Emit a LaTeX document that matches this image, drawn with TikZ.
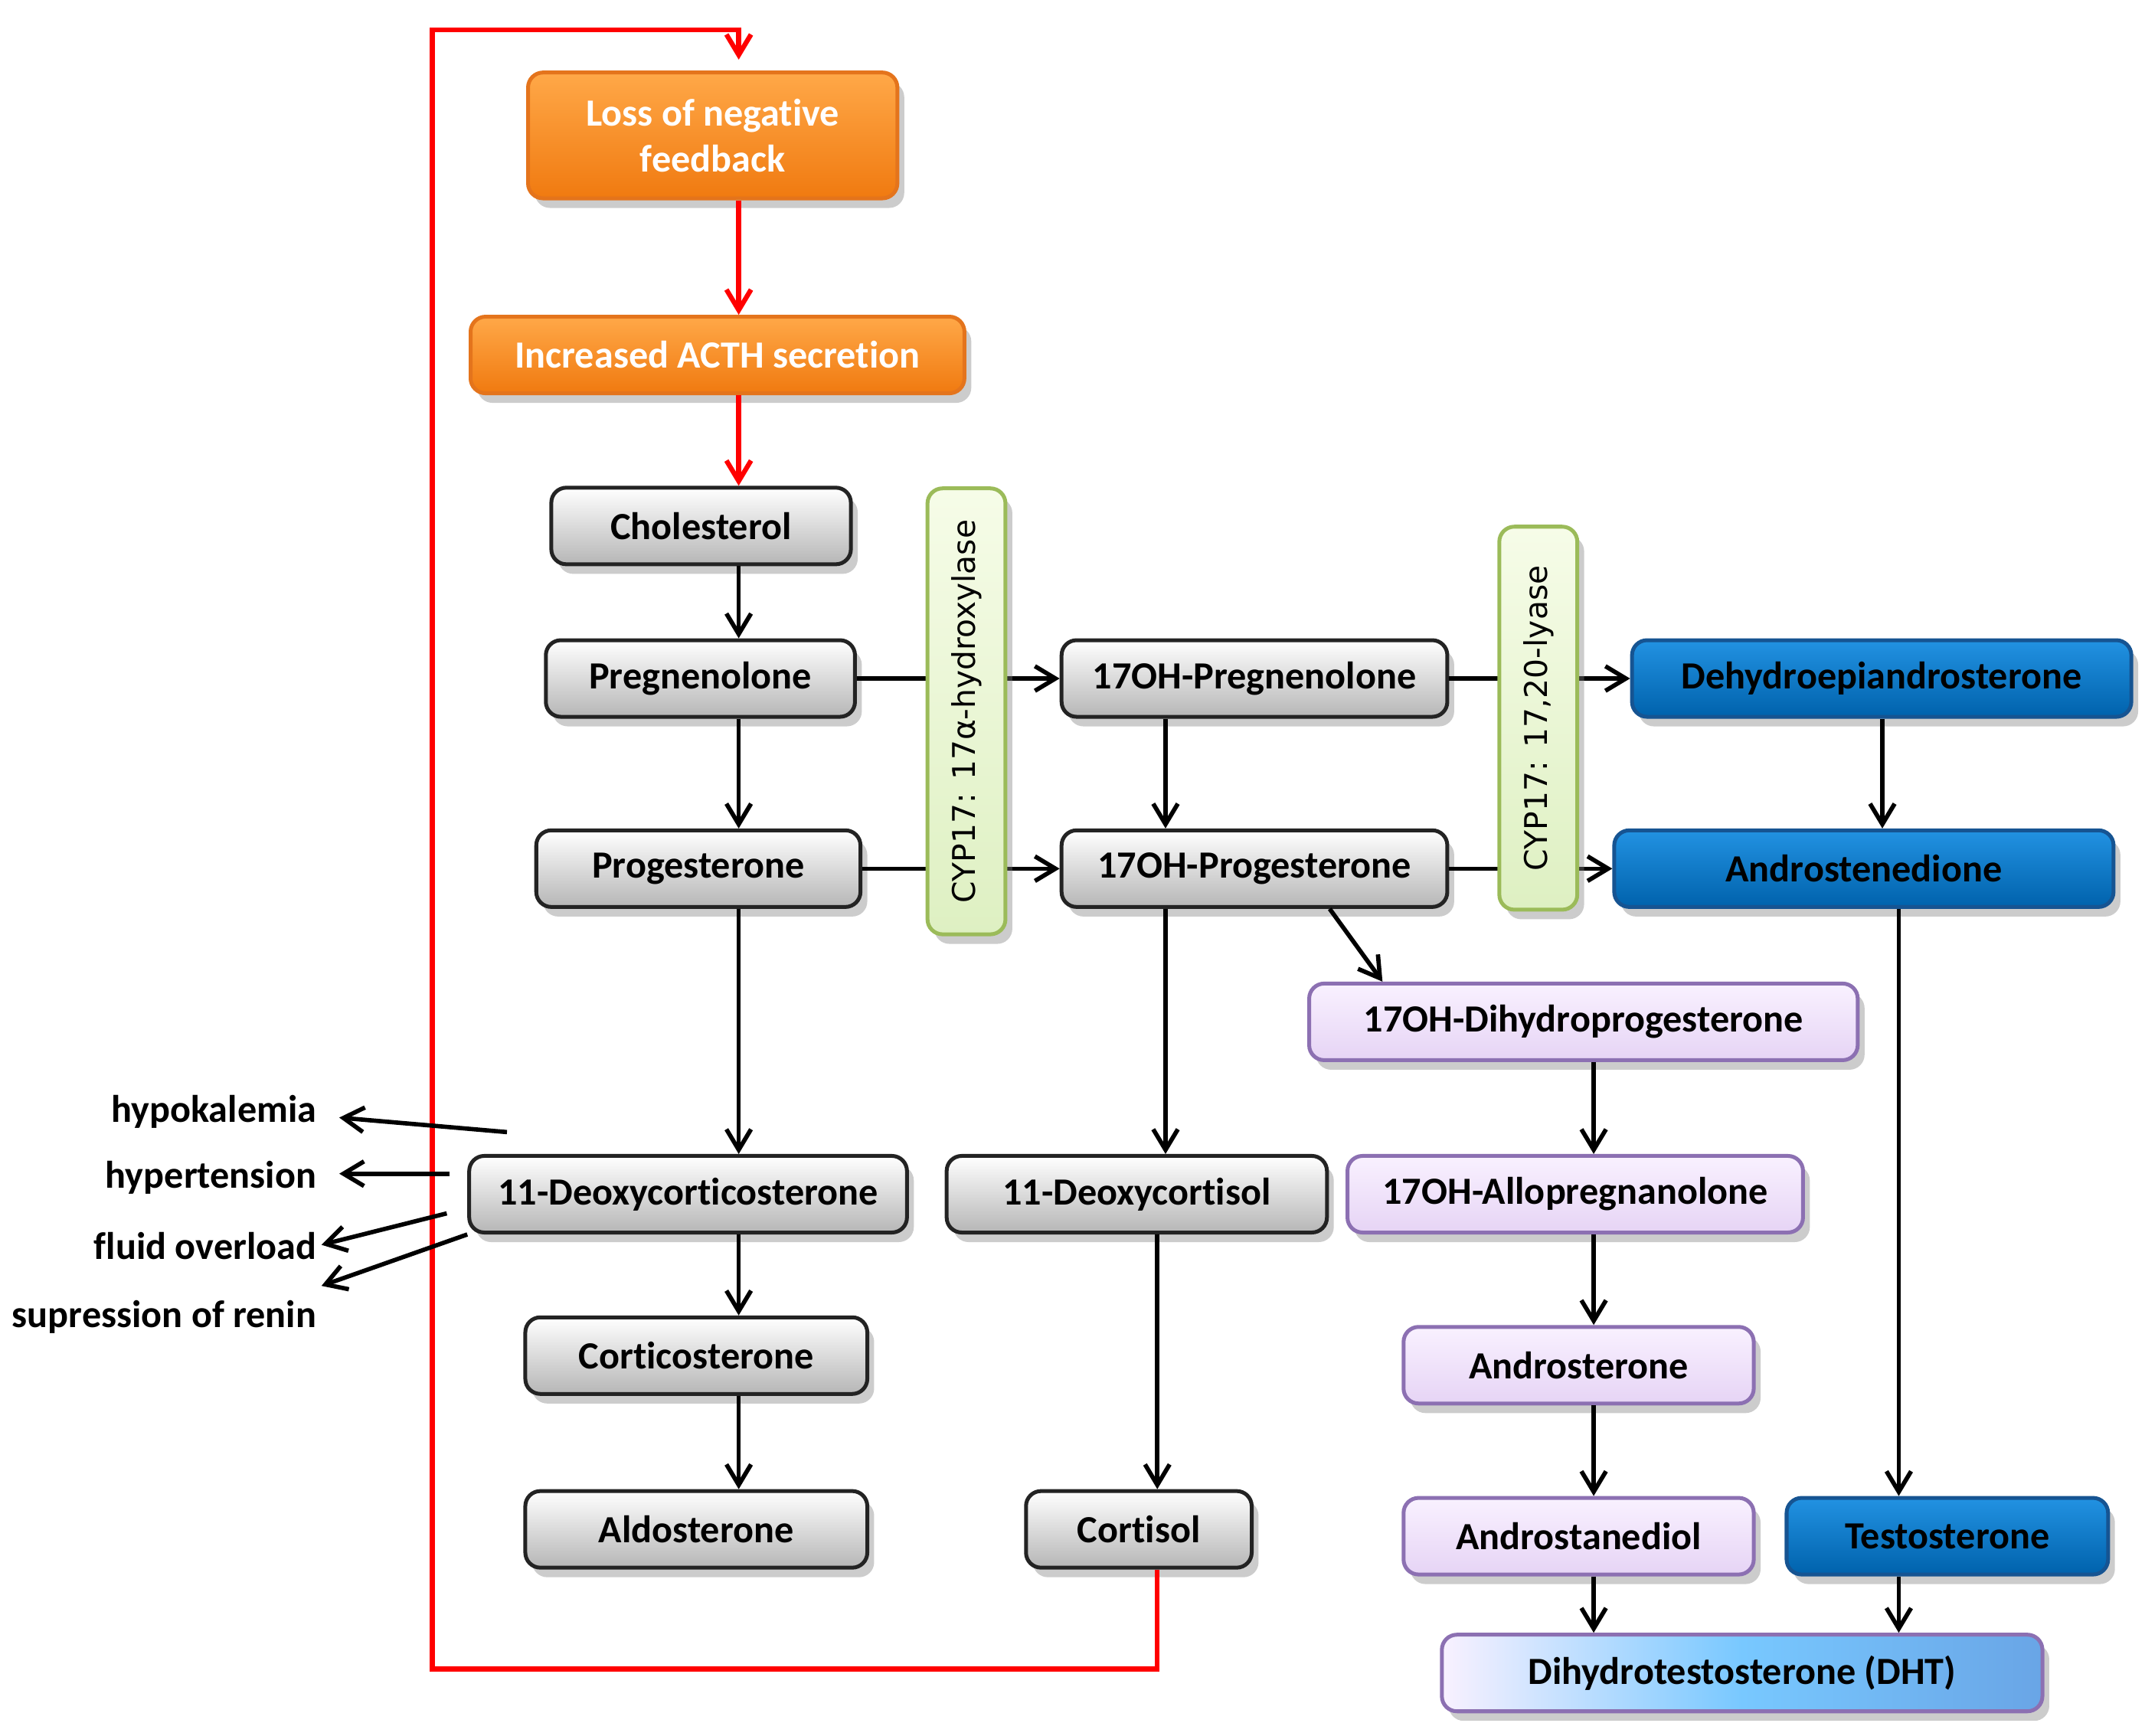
\documentclass[tikz,border=0pt]{standalone}
\usepackage{fontspec}
\setmainfont{Carlito}[Ligatures=NoCommon]
\newfontfamily\enzfont{DejaVu Sans}
\usepackage{tikz}
\usetikzlibrary{calc,arrows.meta,shadows}
\definecolor{greybot}{RGB}{182,182,182}
\definecolor{greyline}{RGB}{35,35,35}
\definecolor{orgtop}{RGB}{255,168,72}
\definecolor{orgbot}{RGB}{240,122,16}
\definecolor{orgline}{RGB}{228,116,28}
\definecolor{bluetop}{RGB}{34,146,226}
\definecolor{bluebot}{RGB}{0,98,172}
\definecolor{blueline}{RGB}{22,84,146}
\definecolor{purtop}{RGB}{249,241,255}
\definecolor{purbot}{RGB}{230,212,245}
\definecolor{purline}{RGB}{140,112,178}
\definecolor{grntop}{RGB}{246,252,232}
\definecolor{grnbot}{RGB}{222,240,194}
\definecolor{grnline}{RGB}{155,187,89}
\definecolor{dhtmid}{RGB}{120,200,255}
\definecolor{dhtright}{RGB}{105,165,230}

\begin{document}
\begin{tikzpicture}[x=0.1mm,y=-0.1mm,font=\fontsize{8}{9.5}\selectfont\bfseries,
    box/.style={line width=0.8pt,rounded corners=1.1mm,minimum height=5.6mm,inner sep=0pt,
                drop shadow={shadow xshift=0.5mm,shadow yshift=-0.7mm,opacity=0.4}},
    grey/.style={box,draw=greyline,top color=white,bottom color=greybot},
    orng/.style={box,draw=orgline,top color=orgtop,bottom color=orgbot,text=white},
    blu/.style={box,draw=blueline,top color=bluetop,bottom color=bluebot},
    purp/.style={box,draw=purline,top color=purtop,bottom color=purbot},
    mixbox/.style={box,draw=purline,left color=purtop,right color=dhtright,middle color=dhtmid},
    enz/.style={box,draw=grnline,top color=grntop,bottom color=grnbot,rotate=90,
                minimum height=5.7mm,font=\enzfont\fontsize{6.5}{8}\selectfont},
    lbl/.style={anchor=east,inner sep=0pt},
    arr/.style={-{Straight Barb[length=1.5mm,width=1.8mm]},line width=0.9pt},
    fb/.style={arr,draw=red,line width=1pt}]
                                     \useasboundingbox (0,0) rectangle (1568,1269);
                                     \node[orng,minimum width=27mm,minimum height=9.2mm,align=center](loss)at(521,99){Loss of negative\\feedback};
                                     \node[orng,minimum width=36.1mm](acth)at(524.5,259.5){Increased ACTH secretion};
                                     \node[grey,minimum width=21.9mm](chol)at(512.5,384.5){Cholesterol};
                                     \node[grey,minimum width=22.6mm](preg)at(512,496){Pregnenolone};
                                     \node[grey,minimum width=23.7mm](prog)at(510.5,635){Progesterone};
                                     \node[grey,minimum width=28.2mm](opreg)at(917,496){17OH-Pregnenolone};
                                     \node[grey,minimum width=28.2mm](oprog)at(917,635){17OH-Progesterone};
                                     \node[blu,minimum width=36.5mm](dhea)at(1375.5,496){Dehydroepiandrosterone};
                                     \node[blu,minimum width=36.5mm](andro)at(1362.5,635){Androstenedione};
                                     \node[purp,minimum width=40.1mm](dhp)at(1157.5,747){17OH-Dihydroprogesterone};
                                     \node[grey,minimum width=32mm](doc)at(503,873){11-Deoxycorticosterone};
                                     \node[grey,minimum width=27.8mm](dcort)at(831,873){11-Deoxycortisol};
                                     \node[purp,minimum width=33.3mm](allo)at(1151.5,873){17OH-Allopregnanolone};
                                     \node[grey,minimum width=25mm](cortico)at(509,991){Corticosterone};
                                     \node[grey,minimum width=25mm](aldo)at(509,1118){Aldosterone};
                                     \node[grey,minimum width=16.5mm](cortisol)at(832.5,1118){Cortisol};
                                     \node[purp,minimum width=25.6mm](androst)at(1154,998){Androsterone};
                                     \node[purp,minimum width=25.6mm](diol)at(1154,1123){Androstanediol};
                                     \node[blu,minimum width=23.5mm](testo)at(1423.5,1123){Testosterone};
                                     \node[mixbox,minimum width=43.9mm](dht)at(1273.5,1223){Dihydrotestosterone (DHT)};
                                     \node[lbl](hypo)at(232,813){hypokalemia};
                                     \node[lbl](hyper)at(232,861){hypertension};
                                     \node[lbl](fluid)at(232,911){fluid overload};
                                     \node[lbl](renin)at(232,963){supression of renin};
                                     \coordinate(trunk)at(540,0);
                                     \coordinate(oc)at(852,0);
                                     \coordinate(cc)at(846,0);
                                     \coordinate(pc)at(1165,0);
                                     \coordinate(bc)at(1376,0);
                                     \coordinate(tc)at(1388,0);
                                     \coordinate(lb)at(316,1220);
                                     \coordinate(lt)at(540,22);
                                     \draw[fb](loss.south -| trunk)--(acth.north -| trunk);
                                     \draw[fb](acth.south -| trunk)--(chol.north -| trunk);
                                     \draw[fb,shorten >=0.8mm](cortisol.south -| cc)|-(lb)|-(lt)--(loss.north -| trunk);
                                     \draw[arr](chol.south -| trunk)--(preg.north -| trunk);
                                     \draw[arr](preg.south -| trunk)--(prog.north -| trunk);
                                     \draw[arr](prog.south -| trunk)--(doc.north -| trunk);
                                     \draw[arr](doc.south -| trunk)--(cortico.north -| trunk);
                                     \draw[arr](cortico.south -| trunk)--(aldo.north -| trunk);
                                     \draw[arr](preg.east)--(opreg.west);
                                     \draw[arr](prog.east)--(oprog.west);
                                     \draw[arr](opreg.south -| oc)--(oprog.north -| oc);
                                     \draw[arr](oprog.south -| oc)--(dcort.north -| oc);
                                     \draw[arr](dcort.south -| cc)--(cortisol.north -| cc);
                                     \draw[arr]($(oprog.south)+(55,0)$)--($(dhp.north west)+(55,0)$);
                                     \draw[arr](opreg.east)--(dhea.west);
                                     \draw[arr](oprog.east)--(andro.west);
                                     \draw[arr](dhea.south -| bc)--(andro.north -| bc);
                                     \draw[arr](andro.south -| tc)--(testo.north -| tc);
                                     \draw[arr](testo.south -| tc)--(dht.north -| tc);
                                     \draw[arr](dhp.south -| pc)--(allo.north -| pc);
                                     \draw[arr](allo.south -| pc)--(androst.north -| pc);
                                     \draw[arr](androst.south -| pc)--(diol.north -| pc);
                                     \draw[arr](diol.south -| pc)--(dht.north -| pc);
                                     \draw[arr]($(doc.north west)+(29,-16)$)--($(hypo.east)+(16,4)$);
                                     \draw[arr]($(doc.west)+(-13,-15)$)--($(hyper.east)+(16,-3)$);
                                     \draw[arr]($(doc.west)+(-15,14)$)--($(fluid.east)+(3,-1)$);
                                     \draw[arr](doc.south west)--($(renin.east)+(3,-23)$);
                                     \node[enz,minimum width=32.6mm](hydrox)at(706.5,520){CYP17: 17α-hydroxylase};
                                     \node[enz,minimum width=28mm](lyase)at(1124.5,525){CYP17: 17,20-lyase};
\end{tikzpicture}
\end{document}
